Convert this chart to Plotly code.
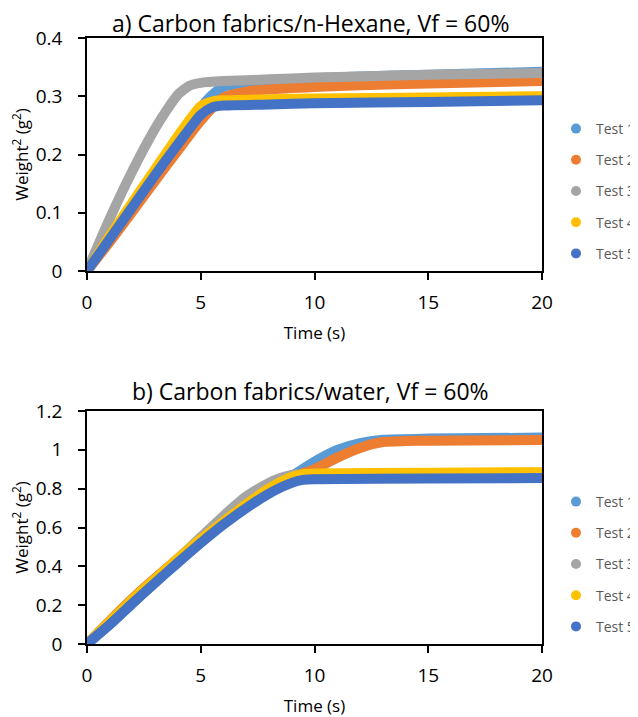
import plotly.graph_objects as go

test_names = ["Test 1", "Test 2", "Test 3", "Test 4", "Test 5"]
colors = ["#5B9BD5", "#ED7D31", "#A5A5A5", "#FFC000", "#4472C4"]

# Panel a) Carbon fabrics / n-Hexane
hex_t1 = [0, 1, 2, 3, 4, 5, 5.5, 6, 7, 8, 10, 12, 15, 20]
hex_w1 = [0, 0.055, 0.11, 0.165, 0.222, 0.28, 0.302, 0.316, 0.323, 0.327, 0.331, 0.334, 0.337, 0.342]
hex_t2 = [0, 1, 2, 3, 4, 5, 6, 7, 8, 10, 12, 15, 20]
hex_w2 = [0, 0.05, 0.102, 0.155, 0.207, 0.258, 0.298, 0.308, 0.312, 0.316, 0.319, 0.322, 0.326]
hex_t3 = [0, 1, 2, 3, 3.5, 4, 4.5, 5, 6, 8, 10, 12, 15, 20]
hex_w3 = [0, 0.09, 0.172, 0.245, 0.276, 0.303, 0.318, 0.323, 0.326, 0.329, 0.332, 0.334, 0.337, 0.340]
hex_t4 = [0, 1, 2, 3, 4, 5, 5.5, 6, 8, 10, 15, 20]
hex_w4 = [0, 0.06, 0.118, 0.175, 0.232, 0.283, 0.291, 0.293, 0.295, 0.296, 0.298, 0.300]
hex_t5 = [0, 1, 2, 3, 4, 5, 5.5, 6, 8, 10, 15, 20]
hex_w5 = [0, 0.055, 0.11, 0.165, 0.218, 0.268, 0.281, 0.284, 0.286, 0.288, 0.290, 0.293]

# Panel b) Carbon fabrics / water
wat_t1 = [0, 1, 2, 3, 4, 5, 6, 7, 8, 9, 10, 11, 12, 13, 15, 20]
wat_w1 = [0, 0.1, 0.21, 0.32, 0.42, 0.525, 0.62, 0.71, 0.79, 0.865, 0.94, 1.0, 1.035, 1.052, 1.058, 1.063]
wat_t2 = [0, 1, 2, 3, 4, 5, 6, 7, 8, 9, 10, 11, 12, 13, 14, 15, 20]
wat_w2 = [0, 0.12, 0.235, 0.34, 0.44, 0.535, 0.625, 0.715, 0.79, 0.86, 0.9, 0.96, 1.01, 1.04, 1.045, 1.047, 1.05]
wat_t3 = [0, 1, 2, 3, 4, 5, 6, 7, 8, 8.5, 9, 10, 15, 20]
wat_w3 = [0, 0.11, 0.225, 0.335, 0.44, 0.55, 0.66, 0.76, 0.83, 0.855, 0.87, 0.874, 0.878, 0.882]
wat_t4 = [0, 1, 2, 3, 4, 5, 6, 7, 8, 9, 9.5, 10, 15, 20]
wat_w4 = [0, 0.115, 0.23, 0.335, 0.44, 0.54, 0.63, 0.72, 0.8, 0.86, 0.875, 0.878, 0.882, 0.885]
wat_t5 = [0, 1, 2, 3, 4, 5, 6, 7, 8, 9, 9.5, 10, 15, 20]
wat_w5 = [0, 0.1, 0.21, 0.315, 0.42, 0.52, 0.615, 0.7, 0.775, 0.83, 0.845, 0.848, 0.852, 0.855]

hex_series = [(hex_t1, hex_w1), (hex_t2, hex_w2), (hex_t3, hex_w3), (hex_t4, hex_w4), (hex_t5, hex_w5)]
wat_series = [(wat_t1, wat_w1), (wat_t2, wat_w2), (wat_t3, wat_w3), (wat_t4, wat_w4), (wat_t5, wat_w5)]

title_a = "a) Carbon fabrics/n-Hexane, Vf = 60%"
title_b = "b) Carbon fabrics/water, Vf = 60%"
x_title = "Time (s)"
y_title = "Weight<sup>2</sup> (g<sup>2</sup>)"

FONT = "Open Sans"
OFF = 8  # page body margin
# figure is a little wider than the window so the legend text is not clipped by plotly;
# the extra part falls outside the visible window
W, H = 660, 717 - OFF
# desired positions in page pixels
PL, PR, PT, PB = 87, 542, 38, 644
ML, MR, MT, MB = PL - OFF, W - (PR - OFF), PT - OFF, H - (PB - OFF)

fig = go.Figure()

for axis_suffix, series, legend_name in [("", hex_series, "legend"), ("2", wat_series, "legend2")]:
    for name, color, (t, w) in zip(test_names, colors, series):
        fig.add_trace(go.Scatter(
            x=t, y=w, mode="lines", name=name,
            line=dict(color=color, width=10, shape="spline", smoothing=0.6),
            xaxis="x" + axis_suffix, yaxis="y" + axis_suffix,
            showlegend=False, hoverinfo="skip",
        ))
    for name, color in zip(test_names, colors):
        fig.add_trace(go.Scatter(
            x=[None], y=[None], mode="markers", name=name,
            marker=dict(color=color, size=10, symbol="circle"),
            xaxis="x" + axis_suffix, yaxis="y" + axis_suffix,
            legend=legend_name, legendgroup=legend_name + name, showlegend=True,
        ))

plot_h = PB - PT


def py(pix):
    return (PB - pix) / plot_h


def px(pix):
    return (pix - PL) / (PR - PL)


axis_common = dict(
    showline=True, linecolor="black", linewidth=1.5, mirror=True,
    ticks="outside", ticklen=7, tickwidth=1.5, tickcolor="black",
    showgrid=False, zeroline=False,
    tickfont=dict(family=FONT, size=19, color="black"),
)

fig.update_layout(
    width=W, height=H,
    margin=dict(l=ML, r=MR, t=MT, b=MB, autoexpand=False),
    paper_bgcolor="white", plot_bgcolor="white",
    font=dict(family=FONT, color="black"),
    xaxis=dict(domain=[0, 1], range=[0, 20], dtick=5, anchor="y", ticklabelstandoff=6,
               title=dict(text=x_title, font=dict(size=17), standoff=14), **axis_common),
    yaxis=dict(domain=[py(271), 1], range=[0, 0.4], dtick=0.1, anchor="x", ticklabelstandoff=12,
               title=dict(text=y_title, font=dict(size=17), standoff=6), **axis_common),
    xaxis2=dict(domain=[0, 1], range=[0, 20], dtick=5, anchor="y2", ticklabelstandoff=6,
                title=dict(text=x_title, font=dict(size=17), standoff=14), **axis_common),
    yaxis2=dict(domain=[0, py(411)], range=[0, 1.2], dtick=0.2, anchor="x2", ticklabelstandoff=12,
                title=dict(text=y_title, font=dict(size=17), standoff=6), **axis_common),
    legend=dict(x=px(556), y=py(113), xanchor="left", yanchor="top",
                font=dict(family=FONT, size=14, color="#595959"),
                tracegroupgap=10, bgcolor="rgba(0,0,0,0)"),
    legend2=dict(x=px(556), y=py(486), xanchor="left", yanchor="top",
                 font=dict(family=FONT, size=14, color="#595959"),
                 tracegroupgap=10, bgcolor="rgba(0,0,0,0)"),
    annotations=[
        dict(text=title_a, x=px(310), y=py(22.5), xref="paper", yref="paper",
             xanchor="center", yanchor="middle", showarrow=False, borderpad=0,
             font=dict(family=FONT, size=23, color="black")),
        dict(text=title_b, x=px(310), y=py(391), xref="paper", yref="paper",
             xanchor="center", yanchor="middle", showarrow=False, borderpad=0,
             font=dict(family=FONT, size=23, color="black")),
    ],
)

fig.write_html("out.html")
